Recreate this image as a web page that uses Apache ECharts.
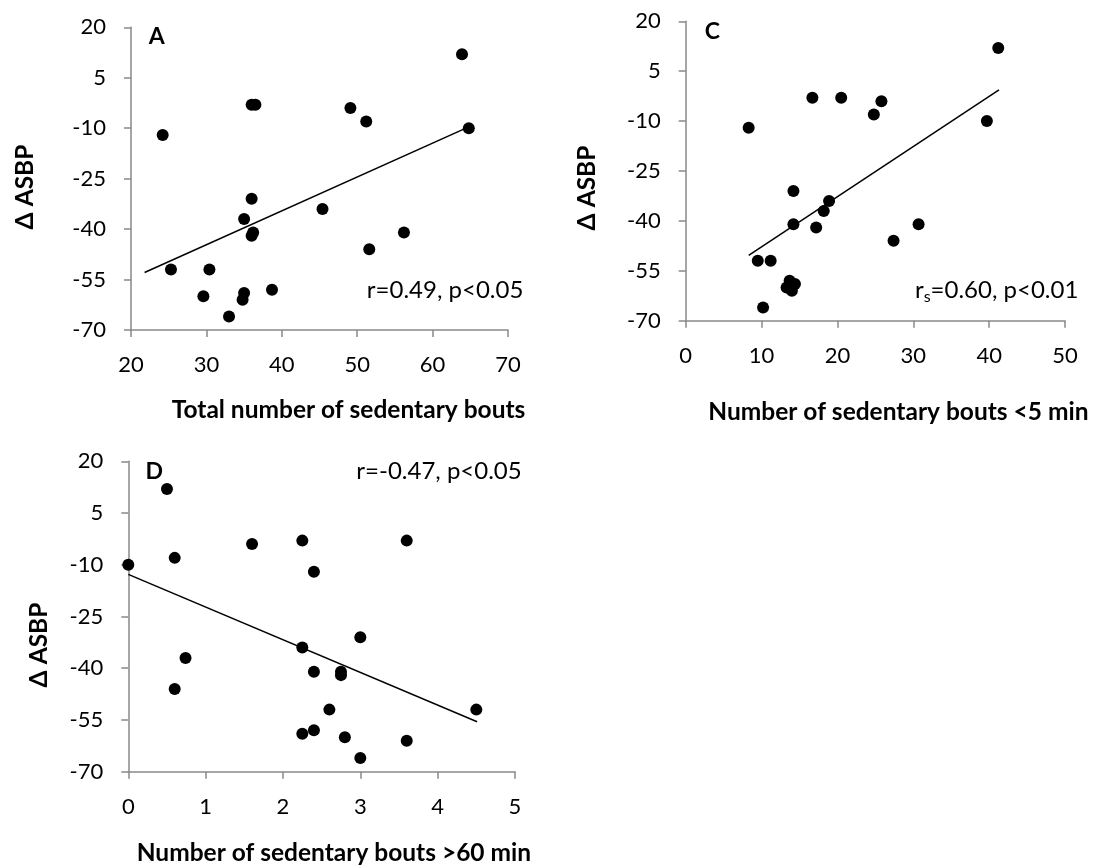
<!DOCTYPE html>
<html>
<head>
<meta charset="utf-8">
<script src="https://cdn.jsdelivr.net/npm/echarts@6/dist/echarts.min.js"></script>
<style>html,body{margin:0;padding:0;background:#fff}#c{width:1100px;height:868px}</style>
</head>
<body>
<div id="c"></div>
<script>
// ---- data ----
const aX = [24.2, 36.0, 36.5, 36.0, 35.0, 36.2, 36.0, 45.4, 25.3, 30.4, 29.6, 35.0, 34.8, 33.0, 38.7, 49.1, 51.2, 63.9, 64.8, 56.2, 51.6];
const aY = [-12, -3, -3, -31, -37, -41, -42, -34, -52, -52, -60, -59, -61, -66, -58, -4, -8, 12, -10, -41, -46];
const aTrend = [[21.8, -52.9], [64.8, -9.6]];

const cX = [8.3, 16.7, 20.5, 25.8, 24.8, 14.2, 18.9, 18.2, 14.2, 17.2, 9.5, 11.2, 13.7, 13.3, 14.4, 14.0, 10.2, 41.2, 39.7, 30.7, 27.4];
const cY = [-12, -3, -3, -4, -8, -31, -34, -37, -41, -42, -52, -52, -58, -60, -59, -61, -66, 12, -10, -41, -46];
const cTrend = [[8.3, -50.4], [41.3, -0.6]];

const dX = [0.5, 0, 0.6, 1.6, 2.25, 2.4, 0.74, 0.6, 2.25, 2.4, 2.25, 2.4, 3.6, 3.0, 2.75, 2.75, 2.6, 4.5, 2.8, 3.6, 3.0];
const dY = [12, -10, -8, -4, -3, -12, -37, -46, -34, -41, -59, -58, -3, -31, -41, -42, -52, -52, -60, -61, -66];
const dTrend = [[0, -12.8], [4.51, -55.5]];

const yTicks = [-70, -55, -40, -25, -10, 5, 20];
const aXTicks = [20, 30, 40, 50, 60, 70];
const cXTicks = [0, 10, 20, 30, 40, 50];
const dXTicks = [0, 1, 2, 3, 4, 5];

const yTitle = 'Δ ASBP';
const xTitles = ['Total number of sedentary bouts', 'Number of sedentary bouts <5 min', 'Number of sedentary bouts >60 min'];
const panelLetters = ['A', 'C', 'D'];
const statA = 'r=0.49, p<0.05';
const statC = ['r', 's', '=0.60, p<0.01'];
const statD = 'r=-0.47, p<0.05';

// ---- styling ----
const FONT = 'Lato, "DejaVu Sans", sans-serif';
const AXIS_COLOR = '#898989';
const LABEL_SIZE = 22;
const STAT = 'normal 24px ' + FONT;
const BOLD = 'bold 24.5px ' + FONT;
const LETTER = 'bold 23px ' + FONT;
const SUB = 'normal 16px ' + FONT;

function pairs(xs, ys) { return xs.map((x, i) => [x, ys[i]]); }

function xAxis(idx, ticks) {
  return {
    type: 'value', gridIndex: idx, min: ticks[0], max: ticks[ticks.length - 1],
    interval: ticks[1] - ticks[0],
    axisLine: { show: true, onZero: false, lineStyle: { color: AXIS_COLOR, width: 1.5 } },
    axisTick: { show: true, length: 7, lineStyle: { color: AXIS_COLOR, width: 1.5 } },
    axisLabel: { color: '#000', fontSize: LABEL_SIZE, fontFamily: FONT, margin: 24 },
    splitLine: { show: false }
  };
}
function yAxis(idx) {
  return {
    type: 'value', gridIndex: idx, min: yTicks[0], max: yTicks[yTicks.length - 1],
    axisLine: { show: true, onZero: false, lineStyle: { color: AXIS_COLOR, width: 1.5 } },
    axisTick: { show: true, length: 7, customValues: yTicks, lineStyle: { color: AXIS_COLOR, width: 1.5 } },
    axisLabel: { color: '#000', fontSize: LABEL_SIZE, fontFamily: FONT, margin: 25, customValues: yTicks },
    splitLine: { show: false }
  };
}
function scatter(idx, xs, ys) {
  return {
    type: 'scatter', xAxisIndex: idx, yAxisIndex: idx, data: pairs(xs, ys),
    symbol: 'circle', symbolSize: 12, itemStyle: { color: '#000', opacity: 1 }, silent: true, z: 3
  };
}
function trend(idx, pts) {
  return {
    type: 'line', xAxisIndex: idx, yAxisIndex: idx, data: pts, showSymbol: false,
    lineStyle: { color: '#000', width: 1.5 }, silent: true, z: 2
  };
}
function txt(x, y, text, font, align, rotation) {
  return {
    type: 'text', x: x, y: y, silent: true, rotation: rotation || 0,
    style: { text: text, fill: '#000', font: font, align: align || 'center', verticalAlign: 'middle' }
  };
}

// widths for the subscripted r_s label
const mctx = document.createElement('canvas').getContext('2d');
mctx.font = STAT;
const wMain = mctx.measureText(statC[2]).width;
mctx.font = SUB;
const wSub = mctx.measureText(statC[1]).width;
const cRight = 1078.3;
const subRight = cRight - wMain;
const rRight = subRight - wSub;

const chart = echarts.init(document.getElementById('c'), null, { renderer: 'canvas' });
chart.setOption({
  animation: false,
  backgroundColor: '#fff',
  grid: [
    { left: 131, top: 27.3, width: 377, height: 302.7 },
    { left: 685.7, top: 21.3, width: 379.3, height: 299.4 },
    { left: 128.3, top: 461.3, width: 386.7, height: 310.4 }
  ],
  xAxis: [xAxis(0, aXTicks), xAxis(1, cXTicks), xAxis(2, dXTicks)],
  yAxis: [yAxis(0), yAxis(1), yAxis(2)],
  series: [
    trend(0, aTrend), scatter(0, aX, aY),
    trend(1, cTrend), scatter(1, cX, cY),
    trend(2, dTrend), scatter(2, dX, dY)
  ],
  graphic: [
    txt(25, 187, yTitle, BOLD, 'center', Math.PI / 2),
    txt(587, 188, yTitle, BOLD, 'center', Math.PI / 2),
    txt(39, 645, yTitle, BOLD, 'center', Math.PI / 2),
    txt(171.7, 410, xTitles[0], BOLD, 'left'),
    txt(708.3, 412, xTitles[1], BOLD, 'left'),
    txt(136.7, 853, xTitles[2], BOLD, 'left'),
    txt(156.7, 36.7, panelLetters[0], LETTER),
    txt(712.3, 31.7, panelLetters[1], LETTER),
    txt(154.3, 471.7, panelLetters[2], LETTER),
    txt(523.3, 290, statA, STAT, 'right'),
    txt(rRight, 290, statC[0], STAT, 'right'),
    txt(subRight, 297, statC[1], SUB, 'right'),
    txt(cRight, 290, statC[2], STAT, 'right'),
    txt(521.7, 471.7, statD, STAT, 'right')
  ]
});
</script>
</body>
</html>
